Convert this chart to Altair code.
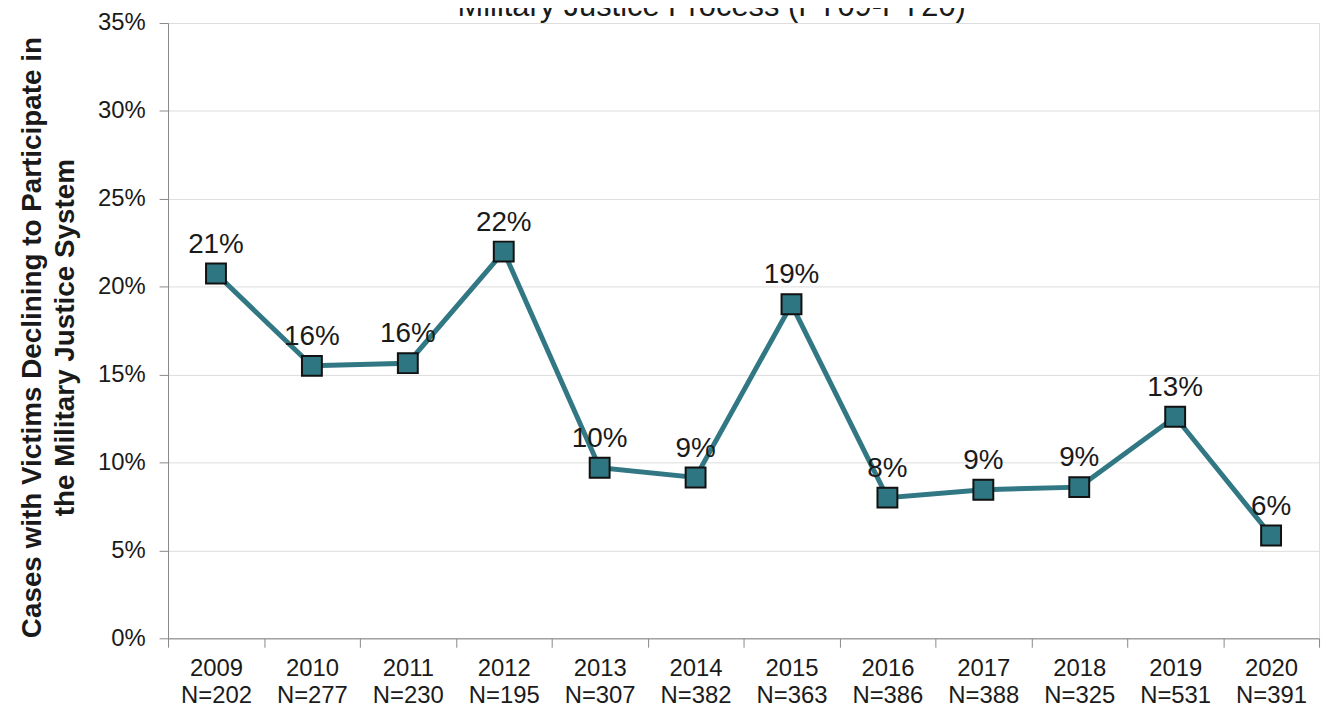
import altair as alt
import pandas as pd

years = ["2009", "2010", "2011", "2012", "2013", "2014",
         "2015", "2016", "2017", "2018", "2019", "2020"]
n_cases = [202, 277, 230, 195, 307, 382, 363, 386, 388, 325, 531, 391]
pct = [20.75, 15.5, 15.65, 22.0, 9.7, 9.15, 19.0, 8.0, 8.45, 8.6, 12.6, 5.85]
pct_labels = ["21%", "16%", "16%", "22%", "10%", "9%",
              "19%", "8%", "9%", "9%", "13%", "6%"]
y_ticks = [0, 5, 10, 15, 20, 25, 30, 35]
title_text = ["Military Justice Process (FY09-FY20)"]

cats = [f"{y}\nN={n}" for y, n in zip(years, n_cases)]
df = pd.DataFrame({"cat": cats, "pct": pct, "lbl": pct_labels})
title_df = pd.DataFrame({"t": title_text})

FONT = "Liberation Sans"
TEAL = "#317884"

x_enc = alt.X(
    "cat:N",
    sort=cats,
    scale=alt.Scale(type="band", paddingInner=0, paddingOuter=0),
    axis=alt.Axis(
        title=None,
        labelExpr="isValid(datum.value) ? split(datum.value, '\\n') : ''",
        labelAngle=0,
        labelFont=FONT,
        labelFontSize=24,
        labelColor="#1a1a1a",
        labelLineHeight=28,
        labelPadding=9,
        labelBaseline="top",
        tickBand="extent",
        tickSize=9,
        grid=False,
    ),
)

y_enc = alt.Y(
    "pct:Q",
    scale=alt.Scale(domain=[0, 35], nice=False),
    axis=alt.Axis(
        title=["Cases with Victims Declining to Participate in",
               "the Military  Justice System"],
        titleFont=FONT,
        titleFontSize=28,
        titleFontWeight="bold",
        titleColor="#1a1a1a",
        titleLineHeight=33,
        titleBaseline="middle",
        titleAlign="center",
        titleAngle=-90,
        titleX=-136,
        titleY=316,
        values=y_ticks,
        labelExpr="datum.value + '%'",
        labelFont=FONT,
        labelFontSize=24,
        labelColor="#1a1a1a",
        labelPadding=14,
        tickSize=9,
        grid=True,
    ),
)

base = alt.Chart(df)

line = base.mark_line(color=TEAL, strokeWidth=5).encode(x=x_enc, y=y_enc)
points = base.mark_point(
    shape="square", filled=True, size=400, fill="#2e7682",
    stroke="#111111", strokeWidth=2, opacity=1,
).encode(x=x_enc, y=y_enc)
labels = base.mark_text(
    font=FONT, fontSize=28, color="#1a1a1a", baseline="alphabetic",
    align="center", dy=-21,
).encode(x=x_enc, y=y_enc, text="lbl:N")

title_mark = alt.Chart(title_df).mark_text(
    font=FONT, fontSize=31, color="#1a1a1a", baseline="alphabetic",
    align="center",
).encode(x=alt.value(547), y=alt.value(-7), text="t:N")

chart = (
    alt.layer(line, points, labels, title_mark)
    .properties(
        width=1158,
        height=619,
        autosize=alt.AutoSizeParams(type="none"),
        padding={"left": 161, "top": 13, "right": 8, "bottom": 68},
    )
    .configure_view(stroke=None)
    .configure_axis(
        domainColor="#888888",
        domainWidth=2,
        tickColor="#888888",
        tickWidth=2,
        gridColor="#d9d9d9",
        gridWidth=1.5,
    )
    .configure(background="white")
)

chart.save("out.html", embed_options={"renderer": "svg", "actions": False})
